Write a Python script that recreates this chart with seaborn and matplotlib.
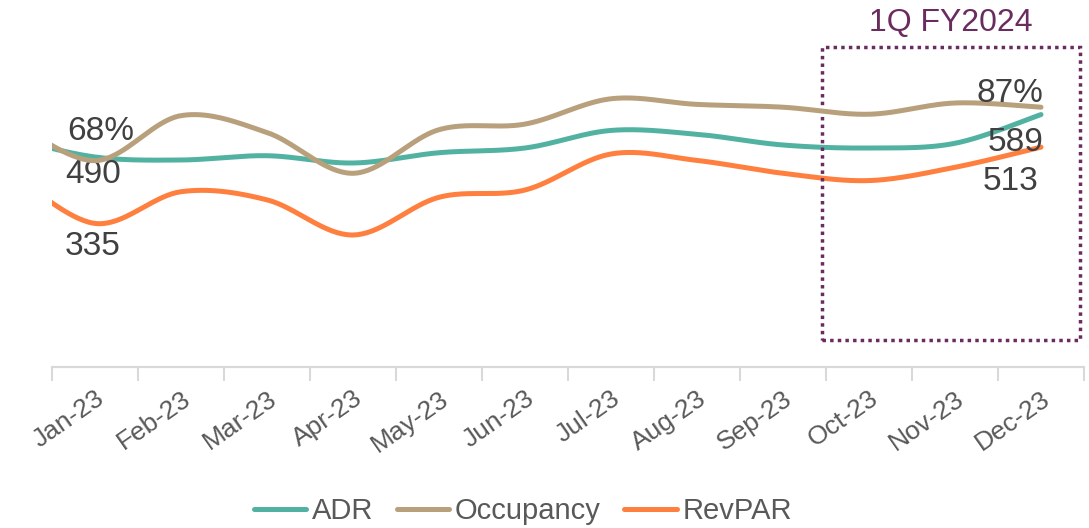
import numpy as np
import pandas as pd
import matplotlib
matplotlib.use('Agg')
from matplotlib import pyplot as plt
from matplotlib.patches import Rectangle
import seaborn as sns

sns.set_theme(style='white')
plt.rcParams['font.family'] = ['Liberation Sans', 'DejaVu Sans']

# monthly data (Dec-22 is only the hidden lead-in point, clipped by the axis)
months = ['Dec-22', 'Jan-23', 'Feb-23', 'Mar-23', 'Apr-23', 'May-23', 'Jun-23',
          'Jul-23', 'Aug-23', 'Sep-23', 'Oct-23', 'Nov-23', 'Dec-23']
adr = [535, 490, 483, 493, 476, 500, 511, 552, 543, 518, 511, 522, 589]
revpar = [458, 335, 409, 390, 308, 396, 413, 497, 482, 452, 435, 466, 513]
occupancy = [83, 68, 84, 78, 63.5, 79, 81, 90, 88, 87, 84.5, 88.5, 87]

c_adr = '#52B2A2'
c_occ = '#B8A07C'
c_rev = '#FF7F3F'
c_box = '#6A2C5E'
c_txt = '#404040'


def smooth(y, n=40):
    # excel-like smoothed line (catmull-rom as cubic bezier)
    y = np.asarray(y, dtype=float)
    x = np.arange(len(y), dtype=float) - 1
    P = np.column_stack([x, y])
    Pp = np.vstack([P[0], P, P[-1]])
    out = []
    t = np.linspace(0, 1, n)[:, None]
    for i in range(len(P) - 1):
        p0, p1 = Pp[i + 1], Pp[i + 2]
        c1 = p0 + (Pp[i + 2] - Pp[i]) / 6
        c2 = p1 - (Pp[i + 3] - Pp[i + 1]) / 6
        seg = ((1 - t) ** 3) * p0 + 3 * ((1 - t) ** 2) * t * c1 + 3 * (1 - t) * t ** 2 * c2 + t ** 3 * p1
        out.append(seg)
    out = np.vstack(out)
    return out[:, 0], out[:, 1]


fig = plt.figure(figsize=(10.89, 5.28), dpi=100)
ax = fig.add_axes([52 / 1089, (528 - 367) / 528, 1032 / 1089, 300 / 528])
ax2 = ax.twinx()

x, y = smooth(adr)
sns.lineplot(x=x, y=y, ax=ax, color=c_adr, lw=3.6, sort=False, label='ADR', legend=False)
x, y = smooth(revpar)
sns.lineplot(x=x, y=y, ax=ax, color=c_rev, lw=3.6, sort=False, label='RevPAR', legend=False)
x, y = smooth(occupancy)
sns.lineplot(x=x, y=y, ax=ax2, color=c_occ, lw=3.6, sort=False, label='Occupancy', legend=False)

ax.set_xlim(-0.5, 11.5)
ax.set_ylim(0, 700)
ax2.set_ylim(-5.4, 101.3)
ax2.set_yticks([])
ax.set_yticks([])

ax.set_xticks(range(12))
ax.set_xticklabels(months[1:], rotation=35, ha='right', rotation_mode='anchor',
                   fontsize=19, color='#595959')
ax.set_xticks(np.arange(-0.5, 12, 1), minor=True)
ax.tick_params(axis='x', which='major', bottom=True, length=0, pad=14)
ax.tick_params(axis='x', which='minor', bottom=True, length=10, width=1.5,
               color='#D9D9D9', direction='out')
for a in (ax, ax2):
    for s in ['top', 'right', 'left']:
        a.spines[s].set_visible(False)
    a.spines['bottom'].set_color('#D9D9D9')
    a.spines['bottom'].set_linewidth(1.5)

# data labels at first and last month
lab = dict(textcoords='offset pixels', fontsize=24, color=c_txt, va='center')
ax2.annotate('{:.0f}%'.format(occupancy[1]), (0, occupancy[1]), xytext=(6, 29), ha='center', **lab)
ax.annotate('{}'.format(adr[1]), (0, adr[1]), xytext=(-2, -18), ha='center', **lab)
ax.annotate('{}'.format(revpar[1]), (0, revpar[1]), xytext=(-2, -23), ha='center', **lab)
ax2.annotate('{:.0f}%'.format(occupancy[-1]), (11, occupancy[-1]), xytext=(2, 14), ha='right', **lab)
ax.annotate('{}'.format(adr[-1]), (11, adr[-1]), xytext=(3, -28), ha='right', **lab)
ax.annotate('{}'.format(revpar[-1]), (11, revpar[-1]), xytext=(-3, -34), ha='right', **lab)

# 1Q FY2024 highlight box
box = Rectangle((8.45, 63), 3.0, 684, fill=False, edgecolor=c_box, lw=2.5,
                linestyle=(0, (1, 1.2)), clip_on=False, zorder=5)
ax.add_patch(box)
ax.text(9.95, 802, '1Q FY2024', ha='center', va='center', fontsize=23, color=c_box, clip_on=False)

h1, l1 = ax.get_legend_handles_labels()
h2, l2 = ax2.get_legend_handles_labels()
handles = [h1[0], h2[0], h1[1]]
labels = [l1[0], l2[0], l1[1]]
fig.legend(handles, labels, loc='center', bbox_to_anchor=(0.48, 0.032), ncol=3, frameon=False,
           fontsize=21, handlelength=1.8, handletextpad=0.2, columnspacing=0.8,
           labelcolor='#595959')

fig.savefig('out.png', dpi=100)
